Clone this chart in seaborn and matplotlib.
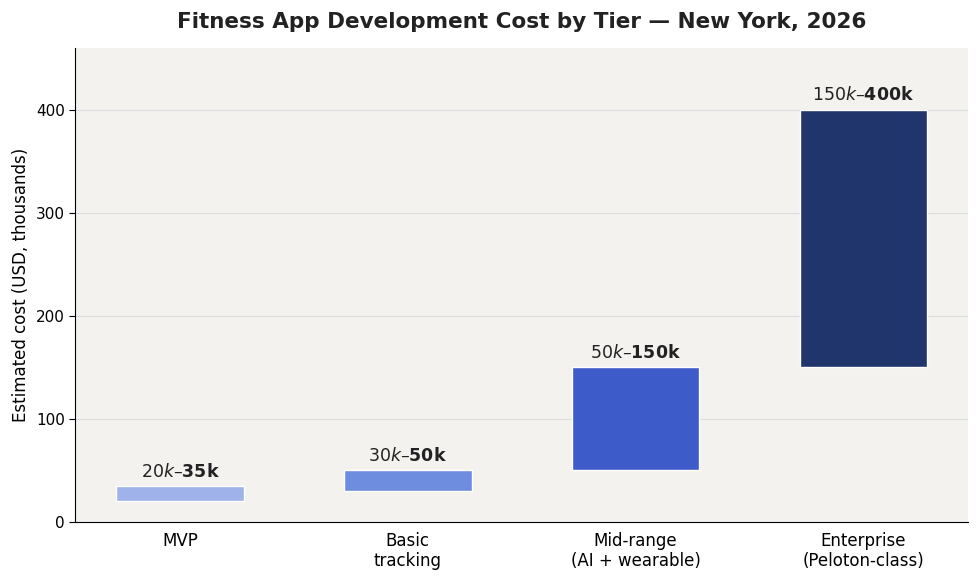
import numpy as np
import pandas as pd
import matplotlib
matplotlib.use("Agg")
import matplotlib.pyplot as plt
import seaborn as sns

# Cost tiers (USD thousands)
tiers = ["MVP", "Basic\ntracking", "Mid-range\n(AI + wearable)", "Enterprise\n(Peloton-class)"]
low = [20, 30, 50, 150]
high = [35, 50, 150, 400]
colors = ["#9fb3ea", "#6f8ddf", "#3d5bc9", "#1f356b"]

df = pd.DataFrame({"tier": tiers, "low": low, "high": high})
df["span"] = df["high"] - df["low"]

sns.set_style("white")
plt.rcParams["font.family"] = ["DejaVu Sans"]

fig, ax = plt.subplots(figsize=(9.78, 5.83), dpi=100)
ax.set_facecolor("#f3f2ef")

sns.barplot(data=df, x="tier", y="span", color=colors[0], saturation=1,
            bottom=df["low"].values, width=0.56, edgecolor="white", linewidth=1.0,
            ax=ax, zorder=3)
for patch, c in zip(ax.patches, colors):
    patch.set_facecolor(c)

# range labels above each bar
for i, (lo, hi) in enumerate(zip(low, high)):
    ax.text(i, hi + 5, f"${lo}k–${hi}k", ha="center", va="bottom",
            fontsize=12.5, fontweight="bold", color="#222222")

ax.set_ylim(0, 460)
ax.set_xlim(-0.46, 3.46)
ax.set_yticks([0, 100, 200, 300, 400])
ax.yaxis.grid(True, color="#dddddd", linewidth=0.8, zorder=0)
ax.set_axisbelow(True)
ax.tick_params(axis="x", labelsize=12, length=0, pad=7, colors="black")
ax.tick_params(axis="y", labelsize=11, length=4, left=True, colors="black")
ax.set_xlabel("")
ax.set_ylabel("Estimated cost (USD, thousands)", fontsize=12, color="black")
ax.set_title("Fitness App Development Cost by Tier — New York, 2026",
             fontsize=15.5, fontweight="bold", color="#222222", pad=14)
for s in ["left", "bottom"]:
    ax.spines[s].set_color("black")
sns.despine(ax=ax)

fig.subplots_adjust(left=0.077, right=0.99, top=0.918, bottom=0.105)
fig.savefig("out.png", dpi=100)
